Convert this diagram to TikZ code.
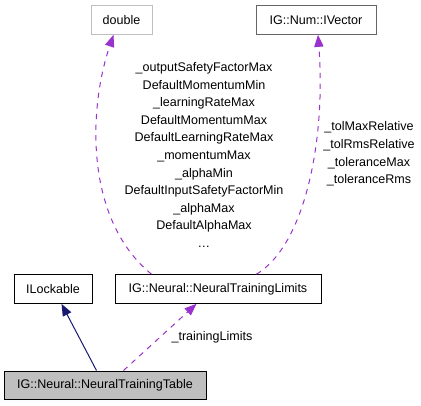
\documentclass[tikz,border=0pt]{standalone}
\usepackage{fontspec}
\setmainfont{Liberation Sans}
\usetikzlibrary{arrows.meta,calc}
\definecolor{edgepurple}{RGB}{154,50,205}
\definecolor{edgenavy}{RGB}{25,25,112}
\begin{document}
\begin{tikzpicture}[x=0.75pt,y=-0.75pt,
    every node/.style={font=\fontsize{9.4}{13.2}\selectfont},
    classbox/.style={draw,line width=0.75pt,inner sep=0pt,minimum height=21.5pt},
    usedby/.style={edgepurple,line width=0.75pt,dash pattern=on 4pt off 4pt,
        -{Triangle[length=9pt,width=7pt]}},
    inherits/.style={edgenavy,line width=0.75pt,-{Triangle[length=9pt,width=7pt]}}]
    \useasboundingbox (0,0) rectangle (421,405);

    % klassen
    \node[classbox,draw=black!25,minimum width=45.75pt] (double) at (121.5,20) {double};
    \node[classbox,draw=black!60,minimum width=90pt] (ivector) at (316,20) {IG::Num::IVector};
    \node[classbox,minimum width=58.5pt] (lockable) at (53,289) {ILockable};
    \node[classbox,minimum width=154.5pt] (limits) at (218,289) {IG::Neural::NeuralTrainingLimits};
    \node[classbox,fill=black!25,minimum width=151.5pt,minimum height=21pt] (table) at (105,385) {IG::Neural::NeuralTrainingTable};

    % verbindungen
    \draw[inherits] ($(table.north west)+(93,0)$) -- ($(lockable.south west)+(48,0)$);
    \draw[usedby] ($(table.north west)+(120,0)$) -- ($(limits.south west)+(82,0)$)
        node[pos=0.5,right=5pt,text=black] (lbltraining) {\_trainingLimits};
    \draw[usedby] ($(limits.north west)+(37,0)$) .. controls (85,220) and (88,110) .. ($(double.south)+(-8,0)$);
    \draw[usedby] ($(limits.north west)+(142,0)$) .. controls (305,245) and (326,140) .. ($(ivector.south)+(2,0)$);

    % beschriftungen
    \node[align=center] (lbldouble) at (204,155) {\_outputSafetyFactorMax\\DefaultMomentumMin\\\_learningRateMax\\DefaultMomentumMax\\DefaultLearningRateMax\\\_momentumMax\\\_alphaMin\\DefaultInputSafetyFactorMin\\\_alphaMax\\DefaultAlphaMax\\\dots};
    \node[align=center] (lblvector) at (369,154) {\_tolMaxRelative\\\_tolRmsRelative\\\_toleranceMax\\\_toleranceRms};
\end{tikzpicture}
\end{document}
